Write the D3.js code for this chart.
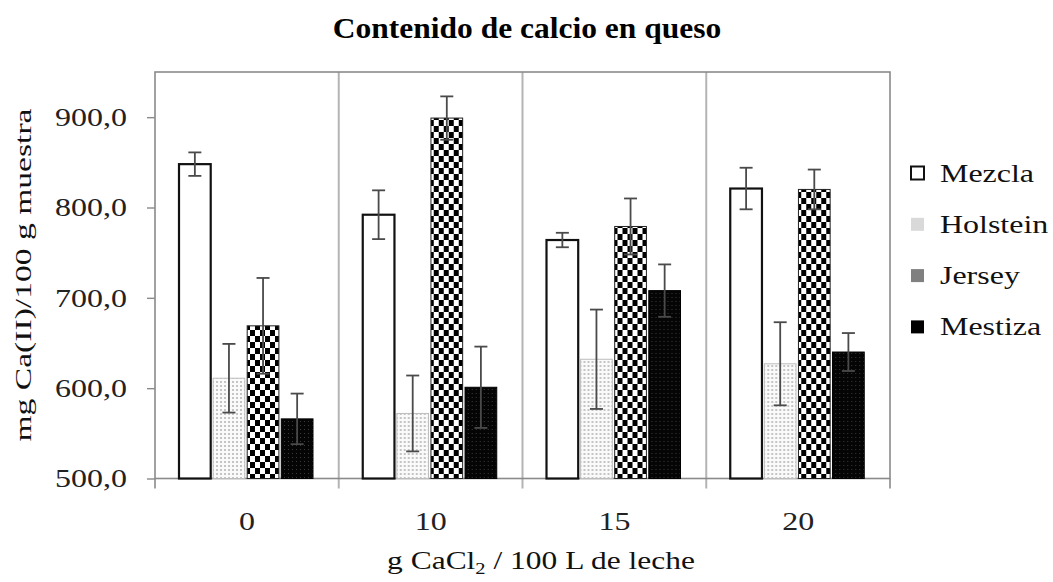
<!DOCTYPE html>
<html>
<head>
<meta charset="utf-8">
<script src="https://cdn.jsdelivr.net/npm/d3@7"></script>
<style>
  body { margin: 0; background: #fff; }
  text { font-family: "Liberation Serif", "Times New Roman", serif; }
</style>
</head>
<body>
<div id="chart"></div>
<script>
// data
const categories = ["0", "10", "15", "20"];
const series = ["Mezcla", "Holstein", "Jersey", "Mestiza"];
const mezcla = [848, 792, 764, 821];
const mezclaErr = [13, 27, 8, 23];
const holstein = [611, 572, 632, 627];
const holsteinErr = [38, 42, 55, 46];
const jersey = [669, 899, 779, 820];
const jerseyErr = [53, 24, 31, 22];
const mestiza = [566, 601, 708, 640];
const mestizaErr = [28, 45, 29, 21];
const yTicks = [500, 600, 700, 800, 900];

const values = [mezcla, holstein, jersey, mestiza];
const errors = [mezclaErr, holsteinErr, jerseyErr, mestizaErr];

let svg = d3.select('#chart').append('svg')
    .attr('width', 1053)
    .attr('height', 582)

// patterns
let defs = svg.append('defs')

let pH = defs.append('pattern').attr('id', 'pHol')
    .attr('patternUnits', 'userSpaceOnUse').attr('width', 4).attr('height', 4)
pH.append('rect').attr('width', 4).attr('height', 4).attr('fill', '#fafafa')
pH.append('rect').attr('x', 1).attr('y', 1).attr('width', 2).attr('height', 2).attr('fill', '#c4c4c4')

let pJ = defs.append('pattern').attr('id', 'pJer')
    .attr('patternUnits', 'userSpaceOnUse').attr('width', 10).attr('height', 12)
pJ.append('rect').attr('width', 10).attr('height', 12).attr('fill', '#fff')
pJ.append('rect').attr('x', 0).attr('y', 0).attr('width', 5).attr('height', 6).attr('fill', '#000')
pJ.append('rect').attr('x', 5).attr('y', 6).attr('width', 5).attr('height', 6).attr('fill', '#000')

let pM = defs.append('pattern').attr('id', 'pMes')
    .attr('patternUnits', 'userSpaceOnUse').attr('width', 4).attr('height', 4)
pM.append('rect').attr('width', 4).attr('height', 4).attr('fill', '#050505')
pM.append('rect').attr('x', 1).attr('y', 1).attr('width', 1).attr('height', 1).attr('fill', '#3a3a3a')

const fills = ['#fff', 'url(#pHol)', 'url(#pJer)', 'url(#pMes)'];
const strokes = ['#111', '#bdbdbd', '#222', '#000'];
const strokeW = [2.2, 1, 1, 1];
const legendFill = ['#fff', '#d9d9d9', '#808080', '#000'];

// scales
let x0 = d3.scaleBand()
    .domain(categories)
    .range([155, 890])
    .padding(0)

let x1 = d3.scaleBand()
    .domain(series)
    .range([24, 158])
    .paddingInner(0.07)

let y = d3.scaleLinear()
    .domain([500, 950])
    .range([478.5, 72])

// text in the original is drawn wide, so scale it along its own x direction
function wideText(parent, x, y, rot, sx) {
    return parent.append('g')
        .attr('transform', 'translate(' + x + ',' + y + ') rotate(' + rot + ') scale(' + sx + ',1)')
        .append('text')
}

// separators and bottom ticks
let bounds = categories.map(c => x0(c)).concat([x0.range()[1]]);
svg.selectAll('.sep')
    .data(bounds.slice(1, -1))
    .enter().append('line')
    .attr('x1', d => d).attr('x2', d => d)
    .attr('y1', y(950)).attr('y2', y(500) + 10)
    .attr('stroke', '#b4b4b4').attr('stroke-width', 2)

// frame
svg.append('rect')
    .attr('x', 155).attr('y', y(950))
    .attr('width', 890 - 155).attr('height', y(500) - y(950))
    .attr('fill', 'none').attr('stroke', '#8a8a8a').attr('stroke-width', 1.6)
svg.selectAll('.endtick')
    .data([155, 890])
    .enter().append('line')
    .attr('x1', d => d).attr('x2', d => d)
    .attr('y1', y(500)).attr('y2', y(500) + 10)
    .attr('stroke', '#8a8a8a').attr('stroke-width', 1.6)

// y axis
const sx = 1.23;
let yAxis = svg.append('g')
    .attr('transform', 'translate(155,0)')
    .call(d3.axisLeft(y).tickValues(yTicks).tickSize(8).tickPadding(20)
        .tickFormat(d => d.toFixed(1).replace('.', ',')))
yAxis.select('.domain').remove()
yAxis.selectAll('line').attr('stroke', '#8a8a8a').attr('stroke-width', 1.4)
yAxis.selectAll('text')
    .attr('font-size', 26).attr('fill', '#222')
    .style('font-family', '"Liberation Serif", serif')
    .attr('x', -28 / sx)
    .attr('transform', 'scale(' + sx + ',1)')

// x axis (labels at the group centres)
let xAxis = svg.append('g')
    .attr('transform', 'translate(0,' + y(500) + ')')
    .call(d3.axisBottom(x0).tickSize(0).tickPadding(33))
xAxis.select('.domain').remove()
xAxis.selectAll('text')
    .attr('font-size', 26).attr('fill', '#222')
    .style('font-family', '"Liberation Serif", serif')
    .attr('transform', 'scale(' + sx + ',1)')

// bars
let groups = svg.selectAll('.grp')
    .data(categories)
    .enter().append('g')
    .attr('transform', d => 'translate(' + x0(d) + ',0)')

series.forEach(function (s, si) {
    groups.append('rect')
        .attr('x', x1(s))
        .attr('y', (d, i) => y(values[si][i]))
        .attr('width', x1.bandwidth())
        .attr('height', (d, i) => y(500) - y(values[si][i]))
        .attr('fill', fills[si])
        .attr('stroke', strokes[si])
        .attr('stroke-width', strokeW[si])
})

// error bars
series.forEach(function (s, si) {
    let cx = x1(s) + x1.bandwidth() / 2;
    let eb = groups.append('g').attr('stroke', '#4a4a4a').attr('stroke-width', 1.8)
    eb.append('line')
        .attr('x1', cx).attr('x2', cx)
        .attr('y1', (d, i) => y(values[si][i] + errors[si][i]))
        .attr('y2', (d, i) => y(values[si][i] - errors[si][i]))
    eb.append('line')
        .attr('x1', cx - 6.5).attr('x2', cx + 6.5)
        .attr('y1', (d, i) => y(values[si][i] + errors[si][i]))
        .attr('y2', (d, i) => y(values[si][i] + errors[si][i]))
    eb.append('line')
        .attr('x1', cx - 6.5).attr('x2', cx + 6.5)
        .attr('y1', (d, i) => y(values[si][i] - errors[si][i]))
        .attr('y2', (d, i) => y(values[si][i] - errors[si][i]))
})

// title
wideText(svg, 527, 38, 0, 1.05)
    .attr('text-anchor', 'middle')
    .attr('font-size', 30).attr('font-weight', 'bold')
    .text('Contenido de calcio en queso')

// y label
wideText(svg, 31, 275, -90, 1.4)
    .attr('text-anchor', 'middle')
    .attr('font-size', 24).attr('fill', '#111')
    .text('mg Ca(II)/100 g muestra')

// x label
let xl = wideText(svg, 541, 569, 0, 1.21)
    .attr('text-anchor', 'middle')
    .attr('font-size', 26).attr('fill', '#111')
xl.append('tspan').text('g CaCl')
xl.append('tspan').attr('font-size', 17).attr('dy', 5).text('2')
xl.append('tspan').attr('dy', -5).text(' / 100 L de leche')

// legend
let legend = svg.selectAll('.leg')
    .data(series)
    .enter().append('g')
    .attr('transform', (d, i) => 'translate(911,' + (173 + i * 51.3) + ')')
legend.append('rect')
    .attr('x', 0).attr('y', -6.5)
    .attr('width', 13).attr('height', 13)
    .attr('fill', (d, i) => legendFill[i])
    .attr('stroke', (d, i) => i === 0 ? '#111' : 'none')
    .attr('stroke-width', 2)
legend.append('text')
    .attr('x', 29 / sx).attr('y', 8.5)
    .attr('transform', 'scale(' + sx + ',1)')
    .attr('font-size', 26).attr('fill', '#111')
    .text(d => d)
</script>
</body>
</html>
